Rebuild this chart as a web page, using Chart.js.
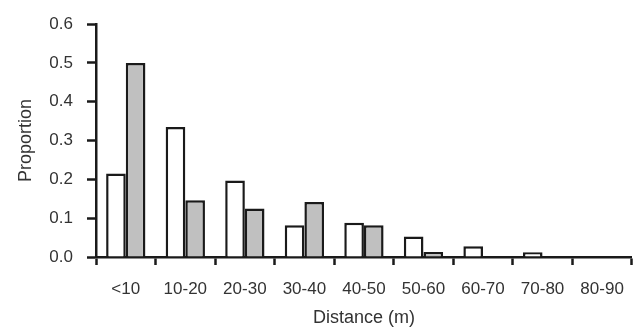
<!DOCTYPE html>
<html>
<head>
<meta charset="utf-8">
<script src="https://cdn.jsdelivr.net/npm/chart.js@4"></script>
<style>
  html, body { margin: 0; padding: 0; background: #fff; }
  #wrap { width: 638px; height: 329px; }
</style>
</head>
<body>
<div id="wrap"><canvas id="myChart" width="638" height="329"></canvas></div>
<script>
// Distance classes
const categories = ["<10", "10-20", "20-30", "30-40", "40-50", "50-60", "60-70", "70-80", "80-90"];
// white bars and grey bars (proportion)
const whiteValues = [0.215, 0.335, 0.197, 0.082, 0.088, 0.053, 0.028, 0.012, 0];
const greyValues = [0.5, 0.146, 0.125, 0.142, 0.082, 0.013, 0, 0, 0];
const yTicks = [0, 0.1, 0.2, 0.3, 0.4, 0.5, 0.6];

const ink = "#1a1a1a";
const fontName = "'Liberation Sans', Arial, sans-serif";

const data = {
  labels: categories,
  datasets: [
    {
      label: "white",
      data: whiteValues,
      backgroundColor: "#ffffff",
      borderColor: ink,
      borderWidth: 2.5,
    },
    {
      label: "grey",
      data: greyValues,
      backgroundColor: "#c0c0c0",
      borderColor: ink,
      borderWidth: 2.5,
    },
  ],
};

const config = {
  type: "bar",
  data: data,
  options: {
    responsive: false,
    animation: false,
    layout: { padding: { top: 24, right: 3, left: 0, bottom: 0 } },
    datasets: { bar: { categoryPercentage: 0.66, barPercentage: 1.0 } },
    plugins: {
      legend: { display: false },
      tooltip: { enabled: false },
    },
    scales: {
      x: {
        afterFit: (scale) => { scale.height = 72; },
        border: { color: ink, width: 2.5 },
        grid: {
          drawOnChartArea: false,
          drawTicks: true,
          tickLength: 8,
          tickColor: ink,
          tickWidth: 2.5,
          offset: true,
        },
        ticks: {
          color: "#333",
          padding: 14,
          maxRotation: 0,
          font: { family: fontName, size: 17 },
        },
        title: {
          display: true,
          text: "Distance (m)",
          color: "#333",
          padding: { top: 2, bottom: 0 },
          font: { family: fontName, size: 18 },
        },
      },
      y: {
        min: 0,
        max: 0.6,
        afterFit: (scale) => { scale.width = 96; },
        afterBuildTicks: (scale) => { scale.ticks = yTicks.map((v) => ({ value: v })); },
        border: { color: ink, width: 2.5 },
        grid: {
          drawOnChartArea: false,
          drawTicks: true,
          tickLength: 9,
          tickColor: ink,
          tickWidth: 2.5,
        },
        ticks: {
          color: "#333",
          padding: 14,
          font: { family: fontName, size: 17 },
          callback: (v) => Number(v).toFixed(1),
        },
        title: {
          display: true,
          text: "Proportion",
          color: "#333",
          padding: { top: 15, bottom: 0 },
          font: { family: fontName, size: 18 },
        },
      },
    },
  },
};

const ctx = document.getElementById("myChart").getContext("2d");
new Chart(ctx, config);
</script>
</body>
</html>
